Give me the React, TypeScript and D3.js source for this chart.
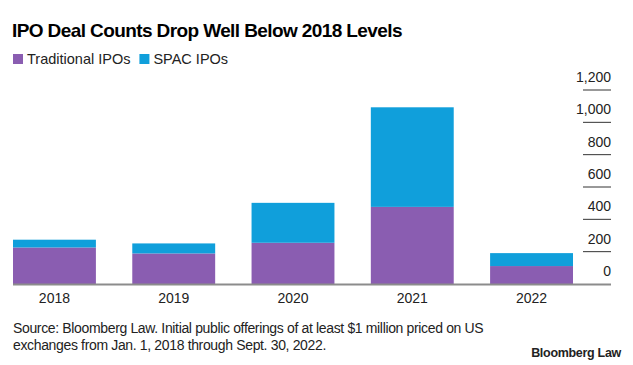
import React, { useEffect, useRef } from 'react';
import * as d3 from 'd3';

const years = ['2018', '2019', '2020', '2021', '2022'];
const traditional = [226, 189, 255, 477, 111];
const spac = [48, 62, 247, 616, 80];
const yTicks = [0, 200, 400, 600, 800, 1000, 1200];
const seriesNames = ['Traditional IPOs', 'SPAC IPOs'];
const seriesColors = ['#8a5db1', '#109fdb'];

const App = () => {
    const ref = useRef<SVGSVGElement>(null);

    useEffect(() => {
        const svg = d3.select(ref.current);
        svg.selectAll('*').remove();
        const font = 'Liberation Sans, Arial, sans-serif';

        // title
        svg.append('text')
            .attr('x', 12).attr('y', 37)
            .attr('font-family', font).attr('font-weight', 'bold')
            .attr('font-size', 19).attr('letter-spacing', -0.6)
            .attr('fill', '#000')
            .text('IPO Deal Counts Drop Well Below 2018 Levels');

        // legend
        let lx = 13;
        seriesNames.forEach((name, i) => {
            svg.append('rect').attr('x', lx).attr('y', 54)
                .attr('width', 10).attr('height', 10).attr('fill', seriesColors[i]);
            const t = svg.append('text')
                .attr('x', lx + 14).attr('y', 64)
                .attr('font-family', font).attr('font-size', 14.5)
                .attr('fill', '#222').text(name);
            const w = (t.node() as SVGTextElement).getComputedTextLength();
            lx += 14 + w + 9;
        });

        const x = d3.scaleBand()
            .domain(years)
            .range([13, 573])
            .paddingInner(0.305)
            .paddingOuter(0);

        const y = d3.scaleLinear().domain([0, 1200]).range([284, 90]);

        const stackData = years.map((yr, i) => ({ year: yr, traditional: traditional[i], spac: spac[i] }));
        const stack = d3.stack<any>().keys(['traditional', 'spac'])(stackData);

        svg.append('g').selectAll('g')
            .data(stack)
            .enter().append('g')
            .attr('fill', (d, i) => seriesColors[i])
            .selectAll('rect')
            .data(d => d)
            .enter().append('rect')
            .attr('x', d => x(d.data.year)!)
            .attr('y', d => y(d[1]))
            .attr('width', x.bandwidth())
            .attr('height', d => y(d[0]) - y(d[1]));

        // y axis on right: tick lines + labels
        const yAxis = svg.append('g');
        yTicks.forEach(t => {
            if (t > 0) {
                yAxis.append('line')
                    .attr('x1', 583).attr('x2', 611)
                    .attr('y1', y(t)).attr('y2', y(t))
                    .attr('stroke', '#333').attr('stroke-width', 1);
            }
            yAxis.append('text')
                .attr('x', 611).attr('y', y(t) - 8)
                .attr('text-anchor', 'end')
                .attr('font-family', font).attr('font-size', 14)
                .attr('fill', '#222')
                .text(d3.format(',')(t));
        });

        // baseline
        svg.append('line')
            .attr('x1', 13).attr('x2', 611)
            .attr('y1', y(0) + 0.5).attr('y2', y(0) + 0.5)
            .attr('stroke', '#8c8c8c').attr('stroke-width', 2);

        // x labels
        svg.append('g').selectAll('text')
            .data(years)
            .enter().append('text')
            .attr('x', d => x(d)! + x.bandwidth() / 2)
            .attr('y', 303)
            .attr('text-anchor', 'middle')
            .attr('font-family', font).attr('font-size', 14)
            .attr('fill', '#222')
            .text(d => d);

        // footer
        const foot = svg.append('text')
            .attr('font-family', font).attr('font-size', 14)
            .attr('fill', '#222').attr('letter-spacing', -0.35);
        foot.append('tspan').attr('x', 13).attr('y', 333)
            .text('Source: Bloomberg Law. Initial public offerings of at least $1 million priced on US');
        foot.append('tspan').attr('x', 13).attr('y', 350)
            .text('exchanges from Jan. 1, 2018 through Sept. 30, 2022.');

        svg.append('text')
            .attr('x', 621).attr('y', 357)
            .attr('text-anchor', 'end')
            .attr('font-family', font).attr('font-weight', 'bold')
            .attr('font-size', 12.5).attr('letter-spacing', -0.3)
            .attr('fill', '#222')
            .text('Bloomberg Law');
    }, []);

    return (
        <svg ref={ref} width={633} height={365}
            style={{ position: 'absolute', left: 0, top: 0, background: '#fff' }} />
    );
};

export default App;
